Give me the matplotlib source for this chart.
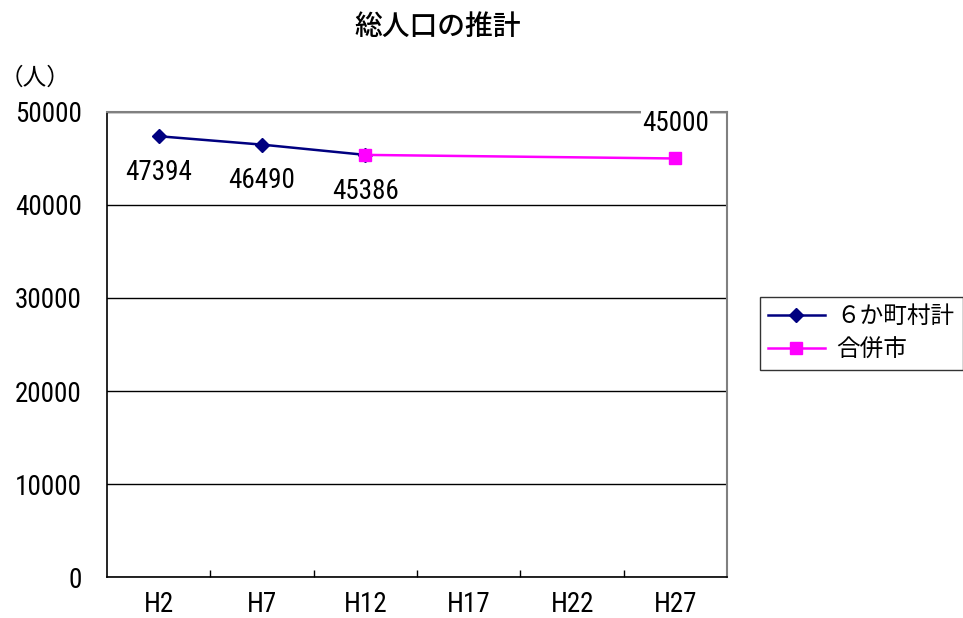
import matplotlib
matplotlib.use("Agg")
import matplotlib.pyplot as plt
from matplotlib.ticker import FixedLocator, NullFormatter

num_font = ['Liberation Sans Narrow', 'DejaVu Sans Condensed', 'Roboto Condensed',
            'Open Sans Condensed', 'Noto Sans CJK JP']
jp = ['Noto Sans CJK JP', 'DejaVu Sans']
plt.rcParams['font.family'] = num_font

categories = ["H2", "H7", "H12", "H17", "H22", "H27"]
towns_label = "６か町村計"
towns_x = ["H2", "H7", "H12"]
towns_values = [47394, 46490, 45386]
merged_label = "合併市"
merged_x = ["H12", "H27"]
merged_values = [45386, 45000]
y_ticks = [0, 10000, 20000, 30000, 40000, 50000]

NUM_SIZE = 19.5

fig = plt.figure(figsize=(9.63, 6.18), dpi=100)
ax = fig.add_axes([0.1111, 0.0663, 0.644, 0.7525])

pos = {c: i for i, c in enumerate(categories)}
tx = [pos[c] for c in towns_x]
mx = [pos[c] for c in merged_x]

ax.plot(tx, towns_values, color="#000080", lw=1.8, marker="D", ms=7,
        label=towns_label, zorder=3)
ax.plot(mx, merged_values, color="#FF00FF", lw=1.8, marker="s", ms=8,
        label=merged_label, zorder=3)

# value labels: town totals below points, the final merged value above
for x, v in zip(tx, towns_values):
    ax.annotate(str(v), (x, v), xytext=(0, -26), textcoords="offset points",
                ha="center", va="center", fontsize=NUM_SIZE, family=num_font)
ax.annotate(str(merged_values[-1]), (mx[-1], merged_values[-1]),
            xytext=(0, 25), textcoords="offset points",
            ha="center", va="center", fontsize=NUM_SIZE, family=num_font,
            bbox=dict(facecolor="white", edgecolor="none", pad=1), zorder=5)

ax.set_xlim(-0.5, len(categories) - 0.5)
ax.set_ylim(0, 50000)
ax.set_yticks(y_ticks)
ax.set_yticklabels([str(t) for t in y_ticks], fontsize=NUM_SIZE, family=num_font)
ax.yaxis.grid(True, color="black", lw=1)
ax.set_axisbelow(True)
ax.tick_params(axis="y", length=0, pad=18)

ax.set_xticks(range(len(categories)))
ax.set_xticklabels(categories, fontsize=NUM_SIZE, family=num_font)
ax.tick_params(axis="x", which="major", length=0, pad=10)
ax.xaxis.set_minor_locator(FixedLocator([i + 0.5 for i in range(len(categories) - 1)]))
ax.xaxis.set_minor_formatter(NullFormatter())
ax.tick_params(axis="x", which="minor", direction="in", length=5, width=1, color="black")

for side in ("top", "right"):
    ax.spines[side].set_color("#808080")
    ax.spines[side].set_linewidth(1.5)
for side in ("left", "bottom"):
    ax.spines[side].set_color("black")
    ax.spines[side].set_linewidth(1.2)

fig.text(0.455, 0.958, "総人口の推計", ha="center", va="center",
         fontsize=20, family=jp, fontweight="medium")
fig.text(0.036, 0.874, "（人）", ha="center", va="center", fontsize=17, family=jp)

leg = fig.legend(loc="upper left", bbox_to_anchor=(0.789, 0.520),
                 prop={"family": jp, "size": 17}, frameon=True, fancybox=False,
                 edgecolor="black", borderpad=0.35, handlelength=2.4,
                 handletextpad=0.5, labelspacing=0.45, borderaxespad=0)
leg.get_frame().set_linewidth(1)

fig.savefig("out.png", dpi=100)
